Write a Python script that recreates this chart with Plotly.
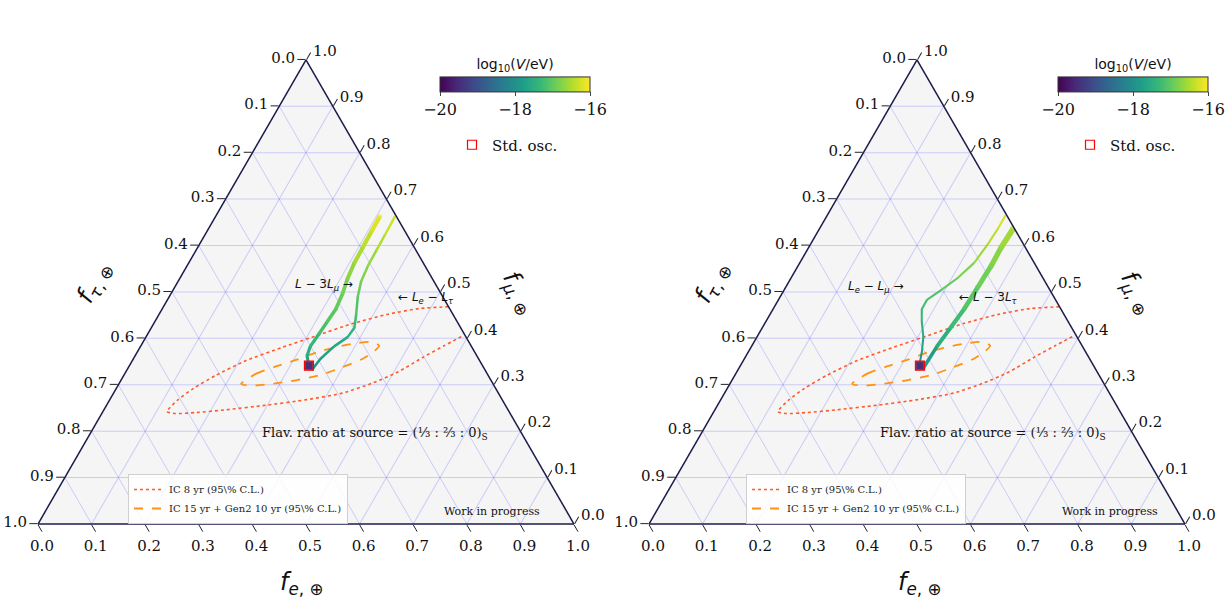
import plotly.graph_objects as go
from plotly.colors import sample_colorscale

W_PX, H_PX = 1232, 606
VMIN, VMAX = -20.0, -16.0

# ---------------- data: flavour fractions at Earth ----------------
tick_vals = [0.0, 0.1, 0.2, 0.3, 0.4, 0.5, 0.6, 0.7, 0.8, 0.9, 1.0]
tick_text = ["1.0", "0.9", "0.8", "0.7", "0.6", "0.5", "0.4", "0.3", "0.2", "0.1", "0.0"]

# standard oscillation point
std_fe = [0.335]
std_fmu = [0.341]

# left panel: L - 3L_mu (thick)
l3mu_fe = [0.3338, 0.3206, 0.3168, 0.3194, 0.3218, 0.3242, 0.3202, 0.3130, 0.3090, 0.3081, 0.3071, 0.3064]
l3mu_fmu = [0.3426, 0.3626, 0.3826, 0.4094, 0.4360, 0.4626, 0.4960, 0.5294, 0.5626, 0.5960, 0.6294, 0.6626]
l3mu_logV = [-17.9, -17.6, -17.4, -17.25, -17.1, -17.0, -16.9, -16.75, -16.6, -16.45, -16.3, -16.1]

# left panel: L_e - L_tau (thin)
leltau_fe = [0.3451, 0.3491, 0.3612, 0.3764, 0.3790, 0.3687, 0.3519, 0.3415, 0.3375, 0.3366, 0.3359, 0.3348]
leltau_fmu = [0.3326, 0.3560, 0.3826, 0.4026, 0.4226, 0.4494, 0.4894, 0.5226, 0.5560, 0.5894, 0.6226, 0.6626]
leltau_logV = [-18.0, -17.8, -17.65, -17.5, -17.35, -17.2, -17.0, -16.85, -16.7, -16.55, -16.4, -16.2]

# right panel: L - 3L_tau (thick)
l3tau_fe = [0.3439, 0.3460, 0.3512, 0.3564, 0.3584, 0.3603, 0.3592, 0.3614]
l3tau_fmu = [0.3360, 0.3826, 0.4226, 0.4626, 0.5094, 0.5560, 0.5960, 0.6360]
l3tau_logV = [-18.0, -17.6, -17.35, -17.15, -16.95, -16.8, -16.65, -16.5]

# right panel: L_e - L_mu (thin)
lelmu_fe = [0.3331, 0.3242, 0.3106, 0.2909, 0.2776, 0.2771, 0.2923, 0.3105, 0.3253, 0.3307, 0.3329, 0.3328]
lelmu_fmu = [0.3426, 0.3694, 0.4026, 0.4360, 0.4626, 0.4826, 0.5026, 0.5294, 0.5626, 0.6026, 0.6360, 0.6640]
lelmu_logV = [-18.0, -17.8, -17.6, -17.45, -17.3, -17.2, -17.05, -16.9, -16.7, -16.5, -16.35, -16.15]

# IC 8 yr 95% C.L. contour (open where it leaves the triangle)
ic8_fe = [0.532, 0.4782, 0.4274, 0.3711, 0.3178, 0.2645, 0.2123, 0.1714, 0.1438, 0.1265, 0.1195,
          0.1367, 0.1736, 0.2274, 0.2981, 0.3679, 0.4272, 0.4730, 0.5084, 0.5397, 0.5656, 0.5906]
ic8_fmu = [0.468, 0.464, 0.452, 0.432, 0.406, 0.380, 0.352, 0.320, 0.292, 0.266, 0.242,
           0.238, 0.240, 0.246, 0.256, 0.268, 0.282, 0.304, 0.328, 0.360, 0.384, 0.406]

# IC 15 yr + Gen2 10 yr 95% C.L. contour (closed)
gen2_fe = [0.2278, 0.2452, 0.2751, 0.3060, 0.3358, 0.3677, 0.4016, 0.4290, 0.4444,
           0.4409, 0.4281, 0.3992, 0.3693, 0.3280, 0.2846, 0.2487, 0.2278]
gen2_fmu = [0.302, 0.324, 0.340, 0.354, 0.370, 0.382, 0.390, 0.392, 0.384,
            0.372, 0.356, 0.338, 0.322, 0.310, 0.302, 0.298, 0.302]


def tern(fe, fmu):
    ftau = [max(0.0, 1.0 - e - m) for e, m in zip(fe, fmu)]
    return dict(a=list(fmu), b=ftau, c=list(fe))


def vcol(v):
    return sample_colorscale("Viridis", [(v - VMIN) / (VMAX - VMIN)])[0]


fig = go.Figure()

OFF = 618  # horizontal pixel offset of right panel (annotations)
panels = [
    dict(sp="ternary", off=0, leg="legend", leg_std="legend3",
         curves=[(l3mu_fe, l3mu_fmu, l3mu_logV, 3.0, 4.5),
                 (leltau_fe, leltau_fmu, leltau_logV, 2.5, 2.5)]),
    dict(sp="ternary2", off=OFF, leg="legend2", leg_std="legend4",
         curves=[(lelmu_fe, lelmu_fmu, lelmu_logV, 2.0, 2.2),
                 (l3tau_fe, l3tau_fmu, l3tau_logV, 3.5, 6.0)]),
]

for p in panels:
    sp = p["sp"]
    # contours
    fig.add_trace(go.Scatterternary(subplot=sp, mode="lines", **tern(ic8_fe, ic8_fmu),
                                    line=dict(color="#ff5a2c", width=1.6, dash="dot", shape="spline",
                                              smoothing=0.6),
                                    name="IC 8 yr (95\\% C.L.)", legend=p["leg"], hoverinfo="skip"))
    fig.add_trace(go.Scatterternary(subplot=sp, mode="lines", **tern(gen2_fe, gen2_fmu),
                                    line=dict(color="#ff9214", width=1.8, dash="dash", shape="spline",
                                              smoothing=0.6),
                                    name="IC 15 yr + Gen2 10 yr (95\\% C.L.)", legend=p["leg"],
                                    hoverinfo="skip"))
    # coloured curves
    for k, (fe, fmu, lv, w0, w1) in enumerate(p["curves"]):
        n = len(fe)
        widths = [w0 + (w1 - w0) * i / (n - 1) for i in range(n)]
        for i in range(n - 1):
            v = 0.5 * (lv[i] + lv[i + 1])
            fig.add_trace(go.Scatterternary(subplot=sp, mode="lines", **tern(fe[i:i + 2], fmu[i:i + 2]),
                                            line=dict(color=vcol(v), width=widths[i]),
                                            showlegend=False, hoverinfo="skip"))
        cx = (515 + p["off"]) / W_PX
        fig.add_trace(go.Scatterternary(
            subplot=sp, mode="markers", **tern(fe, fmu), showlegend=False, hoverinfo="skip",
            marker=dict(size=widths, color=lv, colorscale="Viridis", cmin=VMIN, cmax=VMAX,
                        line=dict(width=0), showscale=(k == 0),
                        colorbar=dict(orientation="h", x=cx, xanchor="center",
                                      y=1 - 49 / H_PX, yanchor="top",
                                      len=170 / W_PX, lenmode="fraction",
                                      thickness=15, thicknessmode="pixels",
                                      title=dict(text="log<sub>10</sub>(<i>V</i>/eV)", side="top",
                                                 font=dict(family="DejaVu Sans", size=14, color="#111")),
                                      tickvals=[-20, -18, -16], ticks="outside", ticklen=4,
                                      tickfont=dict(family="DejaVu Serif", size=16, color="#111"),
                                      outlinewidth=1, outlinecolor="#333"))))
    # standard oscillation blob + marker
    fig.add_trace(go.Scatterternary(subplot=sp, mode="markers", **tern(std_fe, std_fmu),
                                    marker=dict(symbol="square", size=8, color="#46307a",
                                                line=dict(color="#d0304a", width=1)),
                                    showlegend=False, hoverinfo="skip"))
    fig.add_trace(go.Scatterternary(subplot=sp, mode="markers", **tern(std_fe, std_fmu),
                                    marker=dict(symbol="square-open", size=9, color="red",
                                                line=dict(width=1.2)),
                                    name="Std. osc.", legend=p["leg_std"], hoverinfo="skip"))

# ---------------- layout ----------------
axis = dict(title=dict(text=""), tickmode="array", tickvals=tick_vals, ticktext=tick_text,
            ticks="outside", ticklen=8, tickwidth=1, tickcolor="#222",
            tickfont=dict(family="DejaVu Serif", size=15, color="#111"),
            showgrid=True, gridcolor="rgba(80,80,255,0.25)", gridwidth=0.8,
            showline=True, linecolor="#1b1b4b", linewidth=1.5, min=0)

TRI_W = 536.0
TRI_H = TRI_W * 0.8660254
TRI_BOTTOM = 524.0


def tern_layout(center_x):
    x0 = (center_x - TRI_W / 2) / W_PX
    x1 = (center_x + TRI_W / 2) / W_PX
    y0 = 1 - TRI_BOTTOM / H_PX
    y1 = 1 - (TRI_BOTTOM - TRI_H) / H_PX
    return dict(domain=dict(x=[x0, x1], y=[y0, y1]), bgcolor="#f5f5f5", sum=1,
                aaxis=axis, baxis=axis, caxis=axis)


leg_cl = dict(xanchor="left", yanchor="top", bgcolor="rgba(255,255,255,0.85)",
              bordercolor="#d0d0d0", borderwidth=1,
              font=dict(family="DejaVu Serif", size=10, color="#222"), itemwidth=30,
              tracegroupgap=0)
leg_std = dict(xanchor="left", yanchor="middle", bgcolor="rgba(0,0,0,0)", borderwidth=0,
               font=dict(family="DejaVu Serif", size=15, color="#111"), itemwidth=30)

annotations = []
for off in (0, OFF):
    def ax(x, y, text, size, family="DejaVu Sans", angle=0):
        annotations.append(dict(x=(x + off) / W_PX, y=1 - y / H_PX, xref="paper", yref="paper",
                                text=text, showarrow=False, textangle=angle,
                                font=dict(family=family, size=size, color="#111"),
                                xanchor="center", yanchor="middle"))
    ax(302, 583, "<i>f</i><sub><i>e</i>, ⊕</sub>", 24)
    ax(94, 283, "<i>f</i><sub><i>τ</i>, ⊕</sub>", 24, angle=-62)
    ax(519, 293, "<i>f</i><sub><i>μ</i>, ⊕</sub>", 24, angle=62)
    ax(375, 433, "Flav. ratio at source = (⅓ : ⅔ : 0)<sub>S</sub>", 13, family="DejaVu Serif")
    ax(492, 511, "Work in progress", 11, family="DejaVu Serif")

annotations.append(dict(x=293 / W_PX, y=1 - 285 / H_PX, xref="paper", yref="paper", showarrow=False,
                        text="<i>L</i> − 3<i>L</i><sub><i>μ</i></sub> →",
                        font=dict(family="DejaVu Sans", size=12, color="#111")))
annotations.append(dict(x=396 / W_PX, y=1 - 298 / H_PX, xref="paper", yref="paper", showarrow=False,
                        text="← <i>L</i><sub><i>e</i></sub> − <i>L</i><sub><i>τ</i></sub>",
                        font=dict(family="DejaVu Sans", size=12, color="#111")))
annotations.append(dict(x=905 / W_PX, y=1 - 287 / H_PX, xref="paper", yref="paper", showarrow=False,
                        text="<i>L</i><sub><i>e</i></sub> − <i>L</i><sub><i>μ</i></sub> →",
                        font=dict(family="DejaVu Sans", size=12, color="#111")))
annotations.append(dict(x=1020 / W_PX, y=1 - 298 / H_PX, xref="paper", yref="paper", showarrow=False,
                        text="← <i>L</i> − 3<i>L</i><sub><i>τ</i></sub>",
                        font=dict(family="DejaVu Sans", size=12, color="#111")))

fig.update_layout(
    width=W_PX, height=H_PX, margin=dict(l=0, r=0, t=0, b=0),
    paper_bgcolor="white", plot_bgcolor="white",
    ternary=tern_layout(306), ternary2=tern_layout(917),
    legend=dict(x=128 / W_PX, y=1 - 474 / H_PX, **leg_cl),
    legend2=dict(x=(128 + OFF) / W_PX, y=1 - 474 / H_PX, **leg_cl),
    legend3=dict(x=452 / W_PX, y=1 - 145 / H_PX, **leg_std),
    legend4=dict(x=(452 + OFF) / W_PX, y=1 - 145 / H_PX, **leg_std),
    annotations=annotations,
)

fig.write_html("out.html", include_plotlyjs=True, config={"displayModeBar": False},
               post_script="document.body.style.margin='0px';")
